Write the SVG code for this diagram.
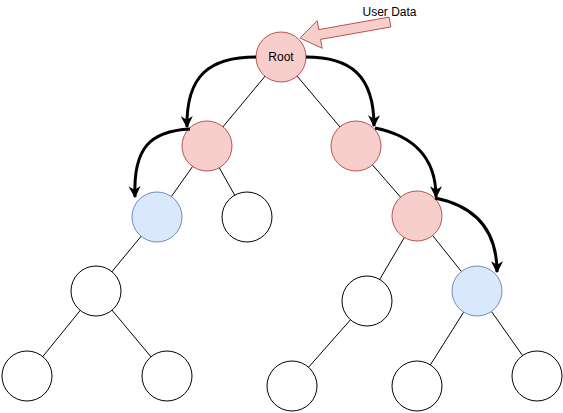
<svg xmlns="http://www.w3.org/2000/svg" width="563" height="413" viewBox="0 0 563 413">
<style>
.n{fill:#fff;stroke:#000;stroke-width:1}
.p{fill:#f8cecc;stroke:#b85450;stroke-width:1}
.b{fill:#dae8fc;stroke:#6c8ebf;stroke-width:1}
.e{stroke:#000;stroke-width:1;fill:none}
.c{stroke:#000;stroke-width:3;fill:none;marker-end:url(#ah)}
text{font-family:"Liberation Sans",Arial,sans-serif;font-size:12px;fill:#000}
</style>
<defs>
<marker id="ah" viewBox="0 0 10 10" refX="9" refY="5" markerWidth="4" markerHeight="4.5" orient="auto" markerUnits="strokeWidth">
<path d="M0,0 L10,5 L0,10 L3,5 Z" fill="#000"/>
</marker>
</defs>
<rect width="563" height="413" fill="#fff"/>
<g id="edges">
<line class="e" x1="281" y1="57" x2="207" y2="146"/>
<line class="e" x1="281" y1="57" x2="356" y2="146"/>
<line class="e" x1="207" y1="146" x2="157" y2="217"/>
<line class="e" x1="207" y1="146" x2="247" y2="217"/>
<line class="e" x1="356" y1="146" x2="417" y2="216"/>
<line class="e" x1="417" y1="216" x2="367" y2="301"/>
<line class="e" x1="417" y1="216" x2="477" y2="291"/>
<line class="e" x1="157" y1="217" x2="96" y2="291"/>
<line class="e" x1="96" y1="291" x2="27" y2="376"/>
<line class="e" x1="96" y1="291" x2="167" y2="376"/>
<line class="e" x1="367" y1="301" x2="292" y2="386"/>
<line class="e" x1="477" y1="291" x2="417" y2="386"/>
<line class="e" x1="477" y1="291" x2="537" y2="376"/>
</g>
<g id="nodes">
<g id="root"><circle class="p" cx="281" cy="57" r="25"/><text x="281" y="61" text-anchor="middle">Root</text></g>
<g id="n1"><circle class="p" cx="207" cy="146" r="25"/></g>
<g id="n2"><circle class="p" cx="356" cy="146" r="25"/></g>
<g id="n3"><circle class="b" cx="157" cy="217" r="25"/></g>
<g id="n4"><circle class="n" cx="247" cy="217" r="25"/></g>
<g id="n5"><circle class="p" cx="417" cy="216" r="25"/></g>
<g id="n6"><circle class="n" cx="96" cy="291" r="25"/></g>
<g id="n7"><circle class="n" cx="367" cy="301" r="25"/></g>
<g id="n8"><circle class="b" cx="477" cy="291" r="25"/></g>
<g id="n9"><circle class="n" cx="27" cy="376" r="25"/></g>
<g id="n10"><circle class="n" cx="167" cy="376" r="25"/></g>
<g id="n11"><circle class="n" cx="292" cy="386" r="25"/></g>
<g id="n12"><circle class="n" cx="417" cy="386" r="25"/></g>
<g id="n13"><circle class="n" cx="537" cy="376" r="25"/></g>
</g>
<g id="connectors">
<path class="c" d="M256,57 C210,57 186,75 187,127"/>
<path class="c" d="M306,57 C350,57 374,75 374,126"/>
<path class="c" d="M190,129 C150,131 133,148 135,197"/>
<path class="c" d="M375,128 C410,135 436,155 436,197"/>
<path class="c" d="M435,198 C470,205 497,225 497,272"/>
</g>
<g id="userdata">
<polygon class="p" points="390.9,26.9 320.6,39.4 322.2,48.3 300,38 317.2,20.7 318.8,29.6 389.1,17.1"/>
<text x="389.5" y="16" text-anchor="middle">User Data</text>
</g>
</svg>
